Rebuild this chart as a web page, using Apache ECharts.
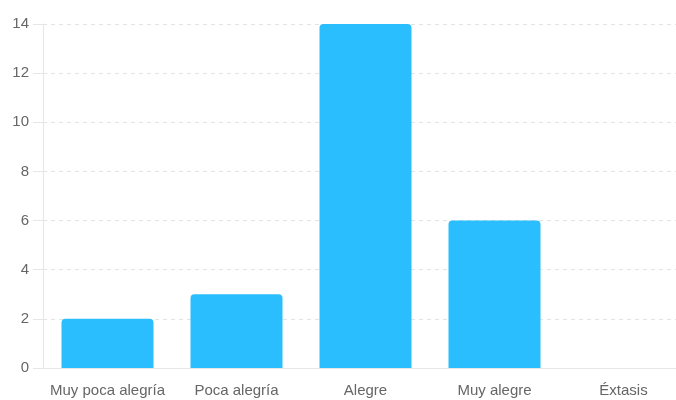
<!DOCTYPE html>
<html>
<head>
<meta charset="utf-8">
<script src="https://cdn.jsdelivr.net/npm/echarts@6/dist/echarts.min.js"></script>
<style>
  html, body { margin: 0; padding: 0; background: #fff; overflow: hidden; width: 676px; height: 400px; }
  #chart { width: 700px; height: 400px; }
</style>
</head>
<body>
<div id="chart"></div>
<script>
// Niveles de alegría y número de respuestas
const categories = ['Muy poca alegría', 'Poca alegría', 'Alegre', 'Muy alegre', 'Éxtasis'];
const counts = [2, 3, 14, 6, 0];
const yTicks = { min: 0, max: 14, interval: 2 };

const labelFont = 'Liberation Sans, Arial, sans-serif';
const chart = echarts.init(document.getElementById('chart'), null, { renderer: 'canvas' });
chart.setOption({
  animation: false,
  grid: { left: 43, width: 645, top: 24, height: 344, containLabel: false, outerBoundsMode: 'none' },
  xAxis: {
    type: 'category',
    data: categories,
    axisLine: { lineStyle: { color: '#e6e6e6', width: 1 } },
    axisTick: { show: false },
    axisLabel: { interval: 0, color: '#666', fontSize: 15, fontFamily: labelFont, margin: 15 },
    splitLine: { show: false }
  },
  yAxis: {
    type: 'value',
    min: yTicks.min,
    max: yTicks.max,
    interval: yTicks.interval,
    axisLine: { show: true, lineStyle: { color: '#e6e6e6', width: 1 } },
    axisTick: { show: true, length: 10, lineStyle: { color: '#e6e6e6' } },
    axisLabel: { color: '#666', fontSize: 15, fontFamily: labelFont, margin: 14 },
    splitLine: { show: true, lineStyle: { color: '#e3e3e3', type: [4, 4], width: 1 } }
  },
  series: [{
    type: 'bar',
    data: counts,
    barWidth: 92,
    itemStyle: { color: '#2bbeff', borderRadius: [4, 4, 0, 0] }
  }]
});
</script>
</body>
</html>
